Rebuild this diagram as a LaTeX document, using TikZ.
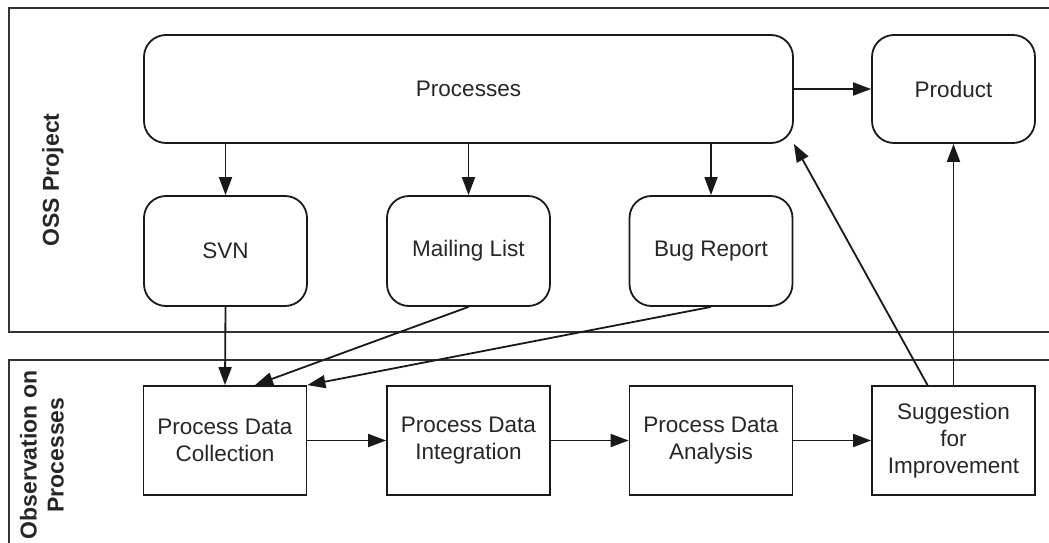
\documentclass[tikz,border=0pt]{standalone}
\usepackage{fontspec}
\setmainfont{Liberation Sans}
\usetikzlibrary{arrows.meta,calc}
\begin{document}
\begin{tikzpicture}[x=1pt,y=-1pt,
  every node/.style={font=\fontsize{22.5}{27}\selectfont, text=black!85},
  frame/.style={line width=2pt, draw=black!80},
  rbox/.style={draw=black!90, line width=1.8pt, rounded corners=22pt, inner sep=0pt, minimum width=163pt, minimum height=110pt},
  sbox/.style={draw=black!90, line width=1.8pt, inner sep=0pt, minimum width=163pt, minimum height=109pt, align=center},
  arr/.style={line width=1.8pt, draw=black!90, -{Triangle[length=18pt,width=13pt]}},
  lab/.style={rotate=90, font=\fontsize{23}{27}\selectfont\bfseries, align=center}]
\useasboundingbox (0,0) rectangle (1049,543);
% frames
\draw[frame] (1049,8) -- (9,8) -- (9,332) -- (1049,332);
\draw[frame] (1049,360) -- (9,360) -- (9,543);
\node[lab] (oss) at (53,180) {OSS Project};
\node[lab] (obs) at (42,455) {Observation on\\Processes};
% top nodes
\node[rbox, minimum width=649pt, minimum height=108pt] (proc) at (468.5,89) {Processes};
\node[rbox, minimum height=108pt] (prod) at (953.5,89) {Product};
\node[rbox] (svn) at (225.5,251) {SVN};
\node[rbox] (mail) at (468.5,251) {Mailing List};
\node[rbox] (bug) at (711,251) {Bug Report};
% bottom nodes
\node[sbox] (pdc) at (225,440.5) {Process Data\\Collection};
\node[sbox] (pdi) at (468.5,440.5) {Process Data\\Integration};
\node[sbox] (pda) at (711,440.5) {Process Data\\Analysis};
\node[sbox] (sfi) at (953.5,440.5) {Suggestion\\for\\Improvement};
% connectors
\draw[arr] (svn.north |- proc.south) -- (svn.north);
\draw[arr] (mail.north |- proc.south) -- (mail.north);
\draw[arr] (bug.north |- proc.south) -- (bug.north);
\draw[arr] (proc.east) -- (prod.west);
\draw[arr] (svn.south) -- (pdc.north);
\draw[arr] (mail.south) -- ([xshift=30pt]pdc.north);
\draw[arr] (bug.south) -- (pdc.north east);
\draw[arr] (pdc.east) -- (pdi.west);
\draw[arr] (pdi.east) -- (pda.west);
\draw[arr] (pda.east) -- (sfi.west);
\draw[arr] ([xshift=-26pt]sfi.north) -- (proc.south east);
\draw[arr] (sfi.north) -- (prod.south);
\end{tikzpicture}
\end{document}
